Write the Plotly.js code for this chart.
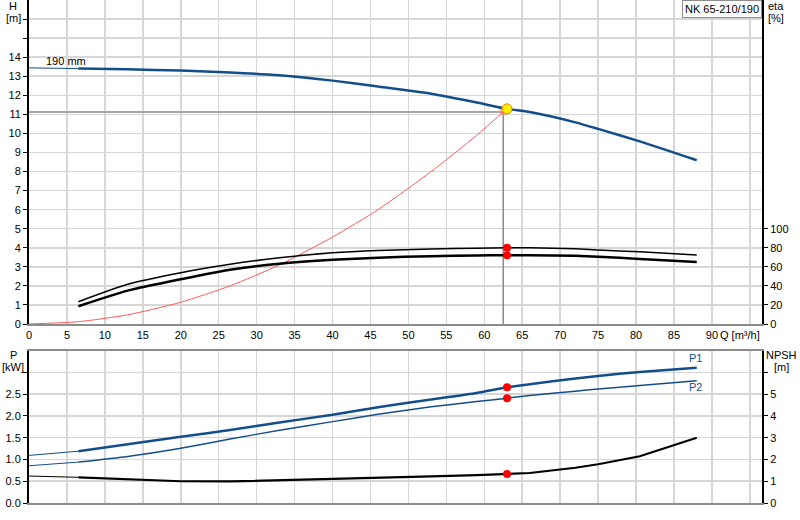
<!DOCTYPE html>
<html>
<head>
<meta charset="utf-8">
<script src="https://cdn.plot.ly/plotly-3.0.1.min.js"></script>
<style>
  html, body { margin: 0; padding: 0; background: #fff; }
  #pumpGraph { width: 800px; height: 520px; }
</style>
</head>
<body>
<div id="pumpGraph"></div>
<script>
// flow points, m3/h
var flowQ = [0, 6.5, 13, 20, 26.5, 33, 40, 46, 53, 59, 63, 66, 72, 75, 80.5, 88];
// head, m
var headH = [13.44, 13.40, 13.36, 13.30, 13.20, 13.05, 12.77, 12.46, 12.08, 11.62, 11.29, 11.12, 10.58, 10.24, 9.58, 8.59];
// efficiencies, % (from 6.5 m3/h)
var etaUpper = [23.4, 41.7, 53.9, 62.7, 69.5, 74.8, 77.2, 78.6, 79.6, 80.1, 79.9, 79.0, 77.7, 75.8, 72.4];
var etaLower = [18.6, 35.0, 47.0, 57.0, 63.2, 67.3, 69.6, 71.2, 71.9, 72.2, 72.1, 71.6, 70.7, 68.3, 65.0];
// power, kW
var powerP1 = [1.094, 1.19, 1.35, 1.52, 1.68, 1.85, 2.03, 2.20, 2.38, 2.53, 2.66, 2.73, 2.86, 2.92, 3.01, 3.11];
var powerP2 = [0.856, 0.94, 1.07, 1.26, 1.47, 1.67, 1.87, 2.04, 2.21, 2.33, 2.41, 2.47, 2.57, 2.62, 2.70, 2.81];
// NPSH, m
var npsh = [1.24, 1.18, 1.08, 1.00, 0.99, 1.04, 1.10, 1.16, 1.22, 1.28, 1.33, 1.38, 1.62, 1.78, 2.15, 3.00];

// system curve
var sysQ = [0, 6.5, 13, 20, 26.5, 33, 40, 46, 53, 59, 62.5];
var sysH = [0, 0.12, 0.48, 1.14, 2.0, 3.1, 4.56, 6.0, 8.0, 9.9, 11.13];

// duty point and operating point
var dutyQ = 62.5, dutyH = 11.13;
var opQ = 63, opH = 11.29;
var opEta = [80.1, 72.2];
var opP = [2.66, 2.41];
var opNpsh = 1.33;

var xTicks = [0, 5, 10, 15, 20, 25, 30, 35, 40, 45, 50, 55, 60, 65, 70, 75, 80, 85, 90, 95];
var xLabels = ['0', '5', '10', '15', '20', '25', '30', '35', '40', '45', '50', '55', '60', '65', '70', '75', '80', '85', '90', ''];
var hTicks = [0, 1, 2, 3, 4, 5, 6, 7, 8, 9, 10, 11, 12, 13, 14, 15, 16];
var hLabels = ['0', '1', '2', '3', '4', '5', '6', '7', '8', '9', '10', '11', '12', '13', '14', '', ''];
var etaTicks = [0, 20, 40, 60, 80, 100];
var pTicks = [0, 0.5, 1.0, 1.5, 2.0, 2.5, 3.0];
var pLabels = ['0.0', '0.5', '1.0', '1.5', '2.0', '2.5', ''];
var npshTicks = [0, 1, 2, 3, 4, 5, 6];
var npshLabels = ['0', '1', '2', '3', '4', '5', ''];

var BLUE = '#134e8c';
var FONT = 'Liberation Sans, Arial, sans-serif';

// pixel -> paper helpers for the labels
var L = 29, R = 38, T = 0, B = 17, W = 800, H = 520;
function px(x) { return (x - L) / (W - L - R); }
function py(y) { return (H - B - y) / (H - T - B); }

var traces = [];

function curve(xs, ys, color, width, xa, ya, shape) {
    traces.push({
        x: xs, y: ys, xaxis: xa, yaxis: ya,
        mode: 'lines', hoverinfo: 'skip',
        line: {color: color, width: width, shape: shape || 'spline', smoothing: 0.6}
    });
}

// curve with thin extrapolated part from 0 to first measured point
function pumpCurve(xs, ys, color, width, xa, ya, shape) {
    curve(xs.slice(0, 2), ys.slice(0, 2), color, 1, xa, ya, 'linear');
    curve(xs.slice(1), ys.slice(1), color, width, xa, ya, shape);
}

// duty lines and system curve
curve([0, dutyQ], [dutyH, dutyH], '#a6a6a6', 2, 'x', 'y', 'linear');
curve([dutyQ, dutyQ], [0, dutyH], '#8a8a8a', 1.5, 'x', 'y', 'linear');
curve(sysQ, sysH, '#ff5a5a', 1, 'x', 'y', 'spline');
traces.push({
    x: [dutyQ], y: [dutyH], xaxis: 'x', yaxis: 'y', mode: 'markers', hoverinfo: 'skip',
    marker: {symbol: 'circle-open', size: 7, color: '#ff8c8c', line: {width: 1}}
});

pumpCurve(flowQ, headH, BLUE, 2.5, 'x', 'y');
traces.push({
    x: [opQ], y: [opH], xaxis: 'x', yaxis: 'y', mode: 'markers', hoverinfo: 'skip',
    marker: {size: 10, color: '#ffee00', line: {color: '#f08000', width: 1}}
});

var etaQ = flowQ.slice(1);
curve(etaQ, etaUpper, '#000', 1.5, 'x', 'y2');
curve(etaQ, etaLower, '#000', 2.5, 'x', 'y2');
traces.push({
    x: [opQ, opQ], y: opEta, xaxis: 'x', yaxis: 'y2', mode: 'markers', hoverinfo: 'skip',
    marker: {size: 8, color: '#ff0000'}
});

pumpCurve(flowQ, powerP1, BLUE, 2.5, 'x2', 'y3');
pumpCurve(flowQ, powerP2, BLUE, 1.5, 'x2', 'y3');
traces.push({
    x: [opQ, opQ], y: opP, xaxis: 'x2', yaxis: 'y3', mode: 'markers', hoverinfo: 'skip',
    marker: {size: 8, color: '#ff0000'}
});

pumpCurve(flowQ, npsh, '#000', 2.2, 'x2', 'y4', 'linear');
traces.push({
    x: [opQ], y: [opNpsh], xaxis: 'x2', yaxis: 'y4', mode: 'markers', hoverinfo: 'skip',
    marker: {size: 8, color: '#ff0000'}
});

var gridCol = '#d6d6d6';
var tickFont = {family: FONT, size: 11, color: '#000'};

var xBase = {
    range: [0, 96.6], tickvals: xTicks, ticktext: xLabels,
    showgrid: true, gridcolor: gridCol, gridwidth: 1.5, zeroline: false,
    showline: true, linecolor: '#8c8c8c', linewidth: 2, mirror: true,
    ticks: '', tickfont: tickFont, fixedrange: true
};

function ann(text, x, y, extra) {
    var a = {
        text: text, xref: 'paper', yref: 'paper', x: px(x), y: py(y),
        xanchor: 'center', yanchor: 'middle',
        showarrow: false, font: {family: FONT, size: 11, color: '#000'}
    };
    for (var k in extra) a[k] = extra[k];
    return a;
}

var layout = {
    width: W, height: H,
    margin: {l: L, r: R, t: T, b: B, pad: 0},
    paper_bgcolor: '#fff', plot_bgcolor: '#fff',
    showlegend: false,
    font: {family: FONT, size: 11, color: '#000'},
    xaxis: Object.assign({}, xBase, {domain: [0, 1], anchor: 'y'}),
    xaxis2: Object.assign({}, xBase, {domain: [0, 1], anchor: 'y3', showticklabels: false}),
    yaxis: {
        domain: [py(324), 1], anchor: 'x', range: [0, 17],
        tickvals: hTicks, ticktext: hLabels, ticks: 'outside', ticklen: 4, tickcolor: '#000',
        showgrid: true, gridcolor: gridCol, gridwidth: 1.5, zeroline: false,
        showline: true, linecolor: '#000', linewidth: 2, tickfont: tickFont
    },
    yaxis2: {
        overlaying: 'y', side: 'right', anchor: 'x', range: [0, 340],
        tickvals: etaTicks, ticks: 'outside', ticklen: 4, tickcolor: '#000',
        showgrid: false, zeroline: false,
        showline: true, linecolor: '#000', linewidth: 2, tickfont: tickFont
    },
    yaxis3: {
        domain: [0, py(350.7)], anchor: 'x2', range: [0, 3.5],
        tickvals: pTicks, ticktext: pLabels, ticks: 'outside', ticklen: 4, tickcolor: '#000',
        showgrid: true, gridcolor: gridCol, gridwidth: 1.5, zeroline: false,
        showline: true, linecolor: '#000', linewidth: 2, tickfont: tickFont
    },
    yaxis4: {
        overlaying: 'y3', side: 'right', anchor: 'x2', range: [0, 7],
        tickvals: npshTicks, ticktext: npshLabels, ticks: 'outside', ticklen: 4, tickcolor: '#000',
        showgrid: false, zeroline: false,
        showline: true, linecolor: '#000', linewidth: 2, tickfont: tickFont
    },
    annotations: [
        ann('H', 13, 6),
        ann('[m]', 13, 18),
        ann('eta', 776, 6),
        ann('[%]', 776, 18),
        ann('P', 13, 355),
        ann('[kW]', 13, 367),
        ann('NPSH', 781, 355),
        ann('[m]', 781, 367),
        ann('190 mm', 66, 61),
        ann('Q [m³/h]', 740, 335),
        ann('P1', 695, 358, {font: {family: FONT, size: 11, color: BLUE}}),
        ann('P2', 695, 387, {font: {family: FONT, size: 11, color: BLUE}}),
        ann('NK 65-210/190', 762, 0, {
            xanchor: 'right', yanchor: 'top', bgcolor: '#fff',
            bordercolor: '#8c8c8c', borderwidth: 1, borderpad: 2
        })
    ]
};

Plotly.newPlot('pumpGraph', traces, layout, {staticPlot: true});
</script>
</body>
</html>
